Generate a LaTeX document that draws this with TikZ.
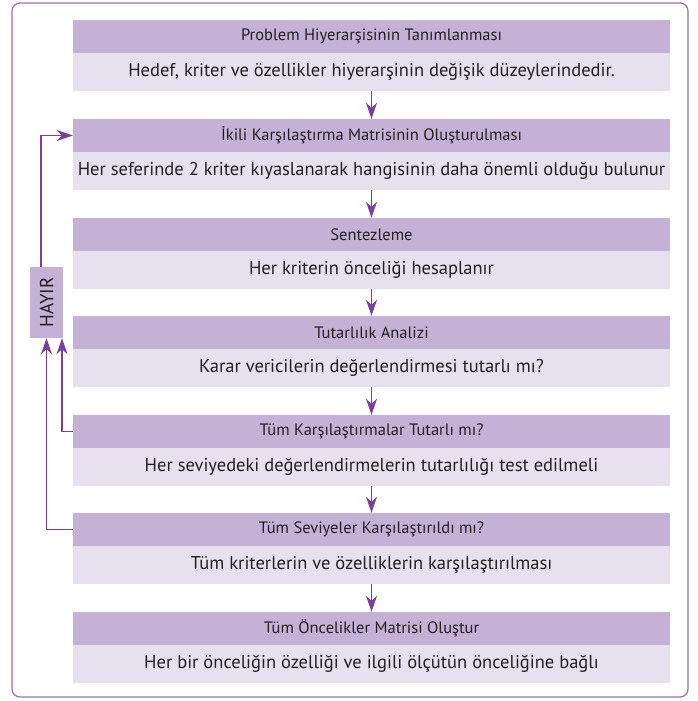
\documentclass[tikz,border=0pt]{standalone}
\usepackage{fontspec}
\setmainfont{PT Sans}
\usetikzlibrary{arrows.meta,calc}
\definecolor{hdr}{HTML}{C5B0D6}
\definecolor{bdy}{HTML}{E7E0EF}
\definecolor{ln}{HTML}{7B3F9E}
\definecolor{frm}{HTML}{9B6BBA}
\definecolor{txt}{HTML}{231F20}
\tikzset{
  hbox/.style={draw=none,fill=hdr,minimum width=597pt,minimum height=33pt,inner sep=0pt,text=txt,font=\fontsize{16.5}{18}\selectfont},
  bbox/.style={draw=none,fill=bdy,minimum width=597pt,minimum height=38pt,inner sep=0pt,text=txt,font=\fontsize{18.5}{21}\selectfont},
  arr/.style={draw=ln,line width=1.4pt,-{Stealth[length=16pt,width=11pt,inset=5pt]}},
}
\begin{document}
\begin{tikzpicture}[x=1pt,y=-1pt]
\useasboundingbox (0,0) rectangle (698,701);
\draw[frm,line width=1.2pt,rounded corners=8pt] (12,3) rectangle (688,697);
\foreach \i/\t/\h/\b in {
 1/20/{Problem Hiyerarşisinin Tanımlanması}/{Hedef, kriter ve özellikler hiyerarşinin değişik düzeylerindedir.},
 2/119/{İkili Karşılaştırma Matrisinin Oluşturulması}/{Her seferinde 2 kriter kıyaslanarak hangisinin daha önemli olduğu bulunur},
 3/218/{Sentezleme}/{Her kriterin önceliği hesaplanır},
 4/316/{Tutarlılık Analizi}/{Karar vericilerin değerlendirmesi tutarlı mı?},
 5/415/{Tüm Karşılaştırmalar Tutarlı mı?}/{Her seviyedeki değerlendirmelerin tutarlılığı test edilmeli},
 6/513/{Tüm Seviyeler Karşılaştırıldı mı?}/{Tüm kriterlerin ve özelliklerin karşılaştırılması},
 7/612/{Tüm Öncelikler Matrisi Oluştur}/{Her bir önceliğin özelliği ve ilgili ölçütün önceliğine bağlı}}
{
 \node[hbox] (h\i) at (371.5,\t+16.5) {\h};
 \node[bbox] (b\i) at (371.5,\t+52) {\b};
}
\foreach \i [count=\j from 2] in {1,...,6}
 \draw[arr] (b\i.south) -- (h\j.north);
\node[fill=hdr,minimum width=33pt,minimum height=71pt,inner sep=0pt,text=txt,font=\fontsize{19}{21}\selectfont] (hayir) at (46.5,302.5) {\rotatebox{90}{HAYIR}};
\draw[arr] ([xshift=-5.5pt]hayir.north) |- (h2.west);
\draw[arr] (h5.west) -| ([xshift=15.5pt]hayir.south);
\draw[arr] (h6.west) -| (hayir.south);
\end{tikzpicture}
\end{document}
